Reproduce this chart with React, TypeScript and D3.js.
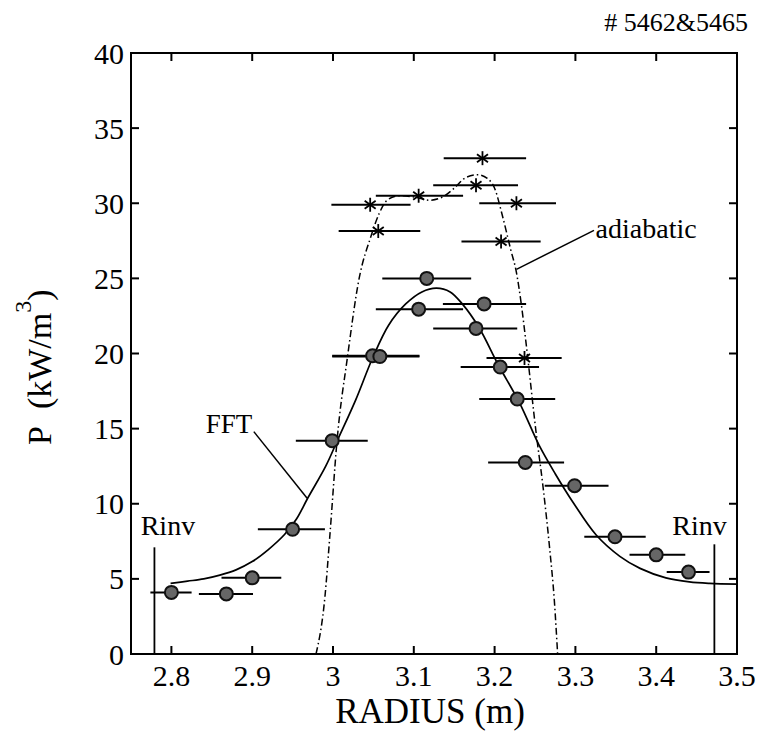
import React from "react";
import * as d3 from "d3";

// FFT data (circles)
const fftR = [2.8, 2.868, 2.9, 2.95, 2.999, 3.049, 3.058, 3.116, 3.106, 3.187, 3.177, 3.207, 3.228, 3.238, 3.299, 3.349, 3.4, 3.44];
const fftP = [4.1, 4.0, 5.07, 8.3, 14.2, 19.85, 19.8, 25.0, 22.95, 23.3, 21.67, 19.1, 16.97, 12.75, 11.2, 7.8, 6.6, 5.45];
const fftLo = [2.774, 2.834, 2.862, 2.907, 2.954, 2.999, 2.999, 3.061, 3.053, 3.136, 3.124, 3.158, 3.181, 3.192, 3.262, 3.311, 3.367, 3.413];
const fftHi = [2.825, 2.901, 2.936, 2.99, 3.043, 3.107, 3.107, 3.171, 3.161, 3.239, 3.228, 3.255, 3.275, 3.286, 3.341, 3.387, 3.436, 3.466];

// adiabatic data (stars)
const adiR = [3.185, 3.177, 3.227, 3.106, 3.046, 3.056, 3.208, 3.237];
const adiP = [33.0, 31.2, 30.0, 30.5, 29.9, 28.15, 27.45, 19.7];
const adiLo = [3.137, 3.124, 3.181, 3.053, 2.998, 3.007, 3.159, 3.19];
const adiHi = [3.239, 3.229, 3.276, 3.161, 3.096, 3.108, 3.257, 3.283];

// FFT fit curve
const fftCurveR = [2.799, 2.82, 2.84, 2.86, 2.88, 2.9, 2.92, 2.94, 2.955, 2.968, 2.991, 3.007, 3.028, 3.049, 3.069, 3.09, 3.11, 3.128, 3.145, 3.16, 3.181, 3.204, 3.231, 3.255, 3.275, 3.297, 3.326, 3.355, 3.38, 3.412, 3.441, 3.466, 3.5];
const fftCurveP = [4.7, 4.85, 5.0, 5.25, 5.6, 6.15, 6.95, 7.95, 9.0, 10.3, 12.5, 14.4, 16.9, 19.7, 21.9, 23.3, 24.1, 24.35, 24.1, 23.3, 21.7, 19.3, 16.7, 13.9, 12.0, 10.1, 7.9, 6.5, 5.7, 5.07, 4.8, 4.7, 4.65];

// adiabatic curve
const adiCurveR = [2.979, 2.99, 2.996, 3.005, 3.018, 3.032, 3.047, 3.057, 3.067, 3.082, 3.102, 3.119, 3.135, 3.15, 3.164, 3.179, 3.191, 3.2, 3.21, 3.22, 3.227, 3.233, 3.24, 3.251, 3.26, 3.268, 3.274, 3.278];
const adiCurveP = [0, 3.8, 7.8, 14.2, 19.8, 24.9, 27.8, 29.3, 30.2, 30.5, 30.4, 30.2, 30.4, 31.0, 31.7, 31.9, 31.65, 31.0, 29.1, 26.9, 25.4, 23.3, 20.2, 14.9, 11.1, 7.1, 3.5, 0];

const xTicks = [2.8, 2.9, 3.0, 3.1, 3.2, 3.3, 3.4, 3.5];
const xTickLabels = ["2.8", "2.9", "3", "3.1", "3.2", "3.3", "3.4", "3.5"];
const yTicks = [0, 5, 10, 15, 20, 25, 30, 35, 40];

// annotation anchors (data coordinates)
const rinvR = [2.779, 3.472];
const rinvTop = [7.1, 7.3];

const FONT = "Liberation Serif, Times New Roman, Times, serif";

export default function App() {
  const x = d3.scaleLinear().domain([2.75, 3.5]).range([131, 737]);
  const y = d3.scaleLinear().domain([0, 40]).range([654, 53]);
  const [x0, x1] = x.range();
  const [y0, y1] = y.range();
  const tl = 8;

  const fftLine = d3
    .line<number>()
    .x((_, i) => x(fftCurveR[i]))
    .y((_, i) => y(fftCurveP[i]))
    .curve(d3.curveCatmullRom.alpha(0.5))(fftCurveR);
  const adiLine = d3
    .line<number>()
    .x((_, i) => x(adiCurveR[i]))
    .y((_, i) => y(adiCurveP[i]))
    .curve(d3.curveMonotoneX)(adiCurveR);

  return (
    <div style={{ position: "absolute", left: 0, top: 0 }}>
      <svg width={760} height={738} style={{ display: "block", background: "#fff" }} fontFamily={FONT}>
        <defs>
          <clipPath id="plot">
            <rect x={x0} y={y1} width={x1 - x0} height={y0 - y1} />
          </clipPath>
        </defs>
        {/* ticks */}
        {xTicks.filter((t) => t < 3.5).map((t) => (
          <g key={"xt" + t}>
            <line x1={x(t)} x2={x(t)} y1={y0} y2={y0 - tl} stroke="#000" strokeWidth={2} />
            <line x1={x(t)} x2={x(t)} y1={y1} y2={y1 + tl} stroke="#000" strokeWidth={2} />
          </g>
        ))}
        {yTicks.filter((t) => t > 0 && t < 40).map((t) => (
          <g key={"yt" + t}>
            <line x1={x0} x2={x0 + tl} y1={y(t)} y2={y(t)} stroke="#000" strokeWidth={2} />
            <line x1={x1} x2={x1 - tl} y1={y(t)} y2={y(t)} stroke="#000" strokeWidth={2} />
          </g>
        ))}
        {/* tick labels */}
        {xTicks.map((t, i) => (
          <text key={"xl" + t} x={x(t)} y={686} fontSize={30} textAnchor="middle">
            {xTickLabels[i]}
          </text>
        ))}
        {yTicks.map((t) => (
          <text key={"yl" + t} x={124} y={y(t)} dy="0.35em" fontSize={30} textAnchor="end">
            {t}
          </text>
        ))}

        <g clipPath="url(#plot)">
          {/* curves */}
          <path d={fftLine ?? ""} fill="none" stroke="#000" strokeWidth={1.7} />
          <path d={adiLine ?? ""} fill="none" stroke="#000" strokeWidth={1.5} strokeDasharray="7,3,1.5,3" />
          {/* Rinv lines */}
          {rinvR.map((r, i) => (
            <line key={"rinv" + i} x1={x(r)} x2={x(r)} y1={y(0)} y2={y(rinvTop[i])} stroke="#000" strokeWidth={1.8} />
          ))}
          {/* error bars */}
          {fftR.map((_, i) => (
            <line key={"fe" + i} x1={x(fftLo[i])} x2={x(fftHi[i])} y1={y(fftP[i])} y2={y(fftP[i])} stroke="#000" strokeWidth={2} />
          ))}
          {adiR.map((_, i) => (
            <line key={"ae" + i} x1={x(adiLo[i])} x2={x(adiHi[i])} y1={y(adiP[i])} y2={y(adiP[i])} stroke="#000" strokeWidth={2} />
          ))}
          {/* circles */}
          {fftR.map((r, i) => (
            <circle key={"fc" + i} cx={x(r)} cy={y(fftP[i])} r={6.5} fill="#666" stroke="#111" strokeWidth={2} />
          ))}
          {/* stars */}
          {adiR.map((r, i) => {
            const cx = x(r);
            const cy = y(adiP[i]);
            return (
              <g key={"as" + i} stroke="#000" strokeWidth={1.8}>
                <line x1={cx} x2={cx} y1={cy - 7} y2={cy + 7} />
                <line x1={cx - 5.5} x2={cx + 5.5} y1={cy - 4} y2={cy + 4} />
                <line x1={cx - 5.5} x2={cx + 5.5} y1={cy + 4} y2={cy - 4} />
              </g>
            );
          })}
        </g>

        {/* frame */}
        <rect x={x0} y={y1} width={x1 - x0} height={y0 - y1} fill="none" stroke="#000" strokeWidth={2} />

        {/* annotations */}
        <text x={x(2.9)} y={y(14.7)} fontSize={27} textAnchor="end">FFT</text>
        <line x1={x(2.902)} y1={y(14.8)} x2={x(2.968)} y2={y(10.36)} stroke="#000" strokeWidth={1.5} />
        <text x={x(3.325)} y={y(27.7)} fontSize={28}>adiabatic</text>
        <line x1={x(3.227)} y1={y(25.6)} x2={x(3.323)} y2={y(28.2)} stroke="#000" strokeWidth={1.5} />
        <text x={x(2.762)} y={y(7.92)} fontSize={28}>Rinv</text>
        <text x={x(3.42)} y={y(7.92)} fontSize={28}>Rinv</text>

        <text x={748} y={31} fontSize={26} textAnchor="end"># 5462&amp;5465</text>

        {/* axis titles */}
        <text x={430} y={723} fontSize={35} textAnchor="middle">RADIUS (m)</text>
        <text transform="translate(51,445) rotate(-90)" fontSize={34}>
          P{"\u2002"}(kW/m<tspan fontSize={24} dy={-20}>3</tspan>
          <tspan dy={20}>)</tspan>
        </text>
      </svg>
    </div>
  );
}
